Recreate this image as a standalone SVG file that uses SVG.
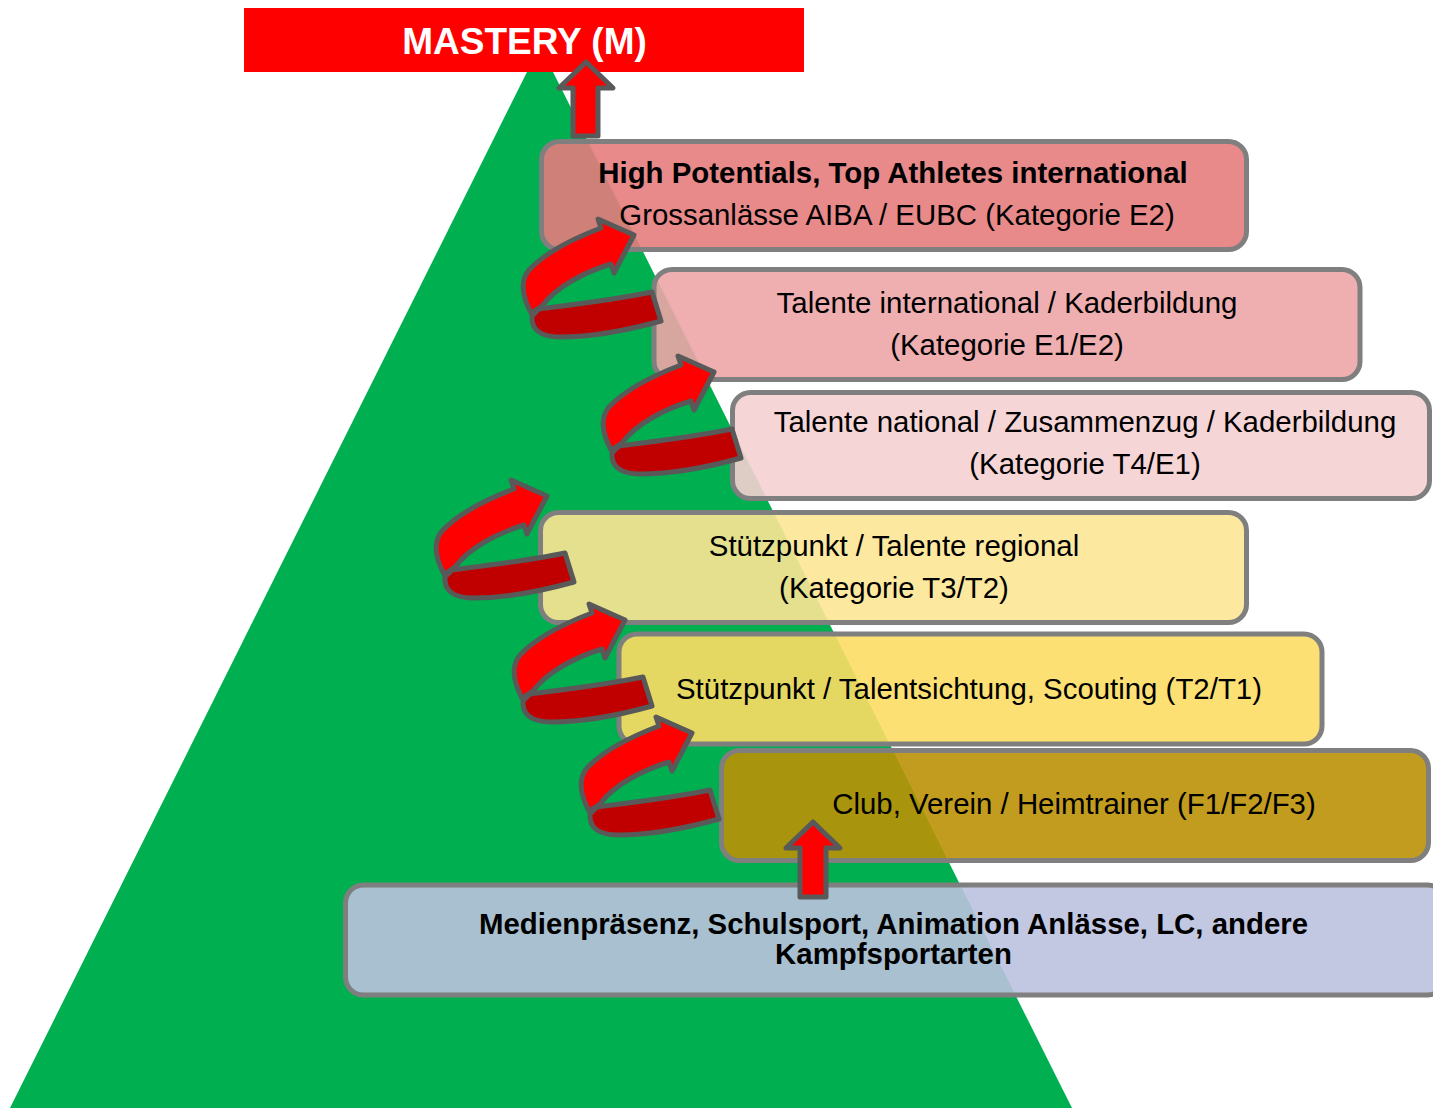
<svg xmlns="http://www.w3.org/2000/svg" xmlns:xlink="http://www.w3.org/1999/xlink" width="1433" height="1108" viewBox="0 0 1433 1108">
<style>
.box{stroke:#7F7F7F;stroke-width:5;fill-opacity:0.9}
.t{font-family:"Liberation Sans",Arial,sans-serif;font-size:29.4px;fill:#000;text-anchor:middle}
.b{font-weight:bold}
.arr{stroke:#595959;stroke-width:5;stroke-linejoin:round}
</style>
<defs>
<g id="curl">
<path class="arr" fill="#FF0000" d="M531,313 C522,296 520,281 529,270 C545,253 572,239 601,228 L598,219 L634,235 L614,273 L611,264 C585,272 557,286 542,306 Z"/>
<path class="arr" fill="#C00000" d="M539,309 C570,305 620,299 652,292 L661,321 C625,331 590,337 560,337 C540,337 531,329 532,316 Z"/>
</g>
</defs>
<rect width="1433" height="1108" fill="#FFFFFF"/>
<polygon id="pyramid" points="540,46 8,1112 1074,1112" fill="#00B050"/>
<g id="mastery">
<rect x="244" y="8" width="560" height="64" fill="#FF0000"/>
<text x="524.5" y="54" class="t b" style="font-size:37px;fill:#FFFFFF">MASTERY (M)</text>
</g>
<g id="high-potentials">
<rect class="box" x="541.5" y="141.5" width="705" height="108" rx="18" fill="#E57C7D"/>
<text x="893" y="183" class="t b">High Potentials, Top Athletes international</text>
<text x="897" y="225" class="t">Grossanlässe AIBA / EUBC (Kategorie E2)</text>
</g>
<g id="talente-international">
<rect class="box" x="654" y="269.5" width="706" height="110" rx="18" fill="#EDA5A7"/>
<text x="1007" y="313" class="t">Talente international / Kaderbildung</text>
<text x="1007" y="355" class="t">(Kategorie E1/E2)</text>
</g>
<g id="talente-national">
<rect class="box" x="732.5" y="392.5" width="697" height="106" rx="18" fill="#F5D0D2"/>
<text x="1085" y="432" class="t">Talente national / Zusammenzug / Kaderbildung</text>
<text x="1085" y="474" class="t">(Kategorie T4/E1)</text>
</g>
<g id="talente-regional">
<rect class="box" x="540.5" y="512.5" width="706" height="110" rx="18" fill="#FDE695"/>
<text x="894" y="556" class="t">Stützpunkt / Talente regional</text>
<text x="894" y="598" class="t">(Kategorie T3/T2)</text>
</g>
<g id="talentsichtung">
<rect class="box" x="619" y="634" width="703" height="110" rx="18" fill="#FDDD64"/>
<text x="969" y="699" class="t">Stützpunkt / Talentsichtung, Scouting (T2/T1)</text>
</g>
<g id="club">
<rect class="box" x="721.5" y="750.5" width="707" height="110" rx="18" fill="#BB9106"/>
<text x="1074" y="814" class="t">Club, Verein / Heimtrainer (F1/F2/F3)</text>
</g>
<g id="basis">
<rect class="box" x="345.5" y="885" width="1100" height="110" rx="18" fill="#BBC2DF"/>
<text x="893.5" y="934" class="t b">Medienpräsenz, Schulsport, Animation Anlässe, LC, andere</text>
<text x="893.5" y="964" class="t b">Kampfsportarten</text>
</g>
<g id="connectors">
<polygon class="arr" fill="#FF0000" points="586,62 613,88 598,88 598,136 573,136 573,88 559,88"/>
<use xlink:href="#curl"/>
<use xlink:href="#curl" transform="translate(80,137)"/>
<use xlink:href="#curl" transform="translate(-87,261)"/>
<use xlink:href="#curl" transform="translate(-9,385)"/>
<use xlink:href="#curl" transform="translate(58,498)"/>
<polygon class="arr" fill="#FF0000" points="813,822 840,848 826,848 826,897 800,897 800,848 786,848"/>
</g>
</svg>
